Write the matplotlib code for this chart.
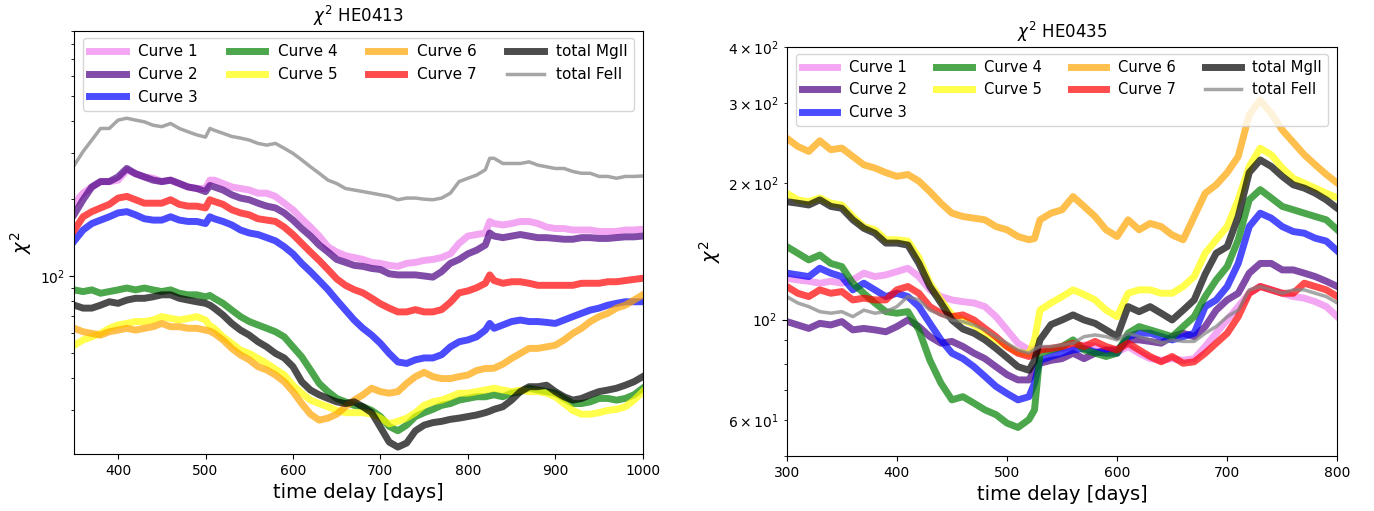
import matplotlib.pyplot as plt

# time delays (days)
days_0413 = [350, 360, 370, 380, 390, 400, 410, 420, 430, 440, 450, 460, 470, 480, 490,
             500, 505, 510, 520, 530, 540, 550, 560, 570, 580, 590, 600, 610, 620, 630,
             640, 650, 660, 670, 680, 690, 700, 710, 720, 730, 740, 750, 760, 770, 780,
             790, 800, 810, 820, 825, 830, 840, 850, 860, 870, 880, 890, 900, 910, 920,
             930, 940, 950, 960, 970, 980, 990, 1000]

days_0435 = [300, 310, 320, 330, 340, 350, 360, 370, 380, 390, 400, 410, 420, 430, 440,
             450, 460, 470, 480, 490, 500, 510, 520, 525, 530, 540, 550, 560, 570, 580,
             590, 600, 610, 620, 630, 640, 650, 660, 670, 680, 690, 700, 710, 720, 730,
             740, 750, 760, 770, 780, 790, 800]

# chi^2 per curve, HE0413
c1_0413 = [192, 210, 222, 233, 233, 236, 258, 250, 243, 240, 233, 236, 229, 222, 219,
           219, 236, 236, 229, 222, 219, 216, 210, 210, 204, 192, 181, 167, 155, 143,
           130, 124, 120, 118, 116, 113, 112, 110, 109, 112, 113, 115, 116, 118, 122,
           134, 143, 145, 147, 163, 160, 158, 160, 163, 163, 160, 155, 153, 153, 151,
           151, 151, 149, 149, 149, 151, 151, 152]
c2_0413 = [174, 198, 222, 233, 233, 243, 262, 250, 243, 236, 233, 236, 229, 222, 219,
           213, 225, 222, 216, 207, 201, 198, 192, 187, 184, 176, 165, 153, 143, 132,
           124, 116, 113, 110, 109, 107, 106, 102, 101, 101, 101, 100, 99, 104, 112,
           116, 122, 126, 132, 147, 143, 141, 143, 145, 143, 141, 141, 140, 139, 139,
           141, 141, 140, 140, 141, 142, 142, 143]
c3_0413 = [137, 151, 160, 165, 170, 176, 178, 173, 167, 165, 165, 170, 165, 163, 163,
           160, 170, 167, 163, 158, 151, 147, 145, 141, 137, 130, 122, 112, 104, 96,
           88.5, 80.6, 73.7, 67.4, 62.6, 58.9, 54.7, 50, 46.3, 45.7, 47.2, 48, 48, 49.4, 53,
           55.5, 56.4, 58, 61.6, 65.4, 62.6, 64.5, 66.5, 67.4, 66.5, 66.5, 66, 65.4, 67.4, 69.5,
           71.6, 73.7, 75, 77, 78.3, 79.4, 79.4, 79.4]
c4_0413 = [88.3, 87, 88.3, 85.7, 87, 88.3, 89.8, 88.3, 89.8, 88.3, 87, 88.3, 85.7, 84.5, 84.5,
           83, 84, 81.9, 78.3, 73.7, 69.5, 66.5, 64.5, 62.6, 60.7, 58, 53, 48.5, 43.1, 38.2,
           35.5, 33.4, 32.4, 31.4, 31, 30, 28.4, 26, 25, 26.3, 28.4, 29.4, 30.3, 31.4, 31.9,
           32.9, 33.4, 33.9, 33.9, 34.2, 34.5, 33.9, 35, 35.5, 36.6, 36, 35.5, 35, 33.4, 31.9,
           31.9, 32.4, 33.4, 33.4, 32.9, 33.4, 34.5, 36.6]
c5_0413 = [53.8, 56.4, 58, 59.8, 62.6, 64.5, 65.4, 66.5, 66.5, 67.4, 69.5, 68.4, 67.4, 68.4, 69.5,
           67.4, 64, 62.6, 58, 54.7, 51.5, 50, 47.8, 45.7, 43.4, 41.2, 37.6, 35, 32.9, 31.9,
           31, 30, 29.4, 29.4, 29.4, 29, 28, 26.6, 27.2, 28, 29.4, 31.4, 32.4, 32.9, 33.9,
           35, 35, 35.5, 36, 36.3, 36.6, 36, 35.5, 36, 35.5, 35.5, 35, 33.9, 31.9, 30,
           29, 29, 29.4, 30, 30.3, 31, 32.9, 35.5]
c6_0413 = [62.6, 60.7, 59.8, 58.9, 60.7, 61.6, 62.6, 61.6, 62.6, 63.5, 65.4, 63.5, 63.5, 62.6, 62.6,
           61.6, 61, 59.8, 56.4, 52.3, 49.3, 47.2, 44.4, 43.1, 41.2, 38.8, 35.5, 31.9, 29, 27.5,
           28, 29, 31, 32.9, 34.5, 36.6, 35.5, 35, 35.5, 38.2, 40.6, 42.2, 40.6, 39.9, 39.9,
           40.6, 41.2, 42.9, 43.7, 43.7, 43.8, 45.4, 47.8, 50, 52.3, 52.3, 53, 53.8, 56.4, 59.8,
           62.6, 66.5, 69.5, 71.6, 75, 77, 80.6, 84.5]
c7_0413 = [151, 170, 178, 184, 190, 201, 204, 198, 192, 192, 192, 198, 190, 187, 187,
           184, 198, 195, 190, 181, 176, 173, 167, 165, 163, 155, 145, 134, 124, 115,
           106, 97.5, 92, 88.5, 86, 82, 78, 75, 72.5, 72.5, 74, 72.5, 72.5, 74, 79,
           86, 87.5, 90, 93.7, 101, 96, 93.7, 95, 95, 93.7, 92, 92, 92, 92, 92,
           93.7, 93.7, 93.7, 95, 95, 96, 97, 98]
mg_0413 = [77, 75, 75, 77, 79.4, 78.3, 80.6, 81.9, 81.9, 83, 84.5, 84.5, 81.9, 80.6, 79.4,
           78.3, 77, 75, 70.5, 65.4, 61.6, 58.9, 55.5, 53, 50, 48, 44.4, 38.8, 36, 34.5,
           33.4, 32.4, 31.9, 32.4, 31, 29.4, 25.8, 22.6, 21.6, 22.4, 25, 26.3, 26.9, 27.2, 27.7,
           28, 28.4, 28.8, 29.4, 29.8, 30.3, 31, 32.9, 35.5, 37.1, 37.1, 37.6, 35.5, 33.9, 32.9,
           33.4, 34.5, 35.5, 36, 36.6, 37.6, 38.8, 40.6]
fe_0413 = [270, 305, 338, 375, 375, 404, 411, 404, 398, 386, 381, 392, 375, 364, 354,
           347, 375, 369, 359, 349, 344, 338, 328, 323, 328, 314, 300, 283, 266, 251,
           236, 229, 219, 216, 213, 210, 207, 204, 198, 201, 201, 199, 198, 201, 210,
           233, 240, 247, 259, 287, 287, 274, 274, 274, 278, 270, 266, 262, 262, 255,
           251, 251, 244, 244, 240, 244, 244, 245]

# chi^2 per curve, HE0435
c1_0435 = [123.4, 122.3, 121.5, 120.3, 121.5, 120.3, 122.3, 126.6, 124.4, 125.5, 127.6, 129.8, 124.4,
           116.3, 112.4, 110.5, 109.5, 108.8, 106.8, 101.5, 94.9, 88.7, 85.7, 86, 86.4, 85.7,
           86.4, 87.2, 87.9, 87.2, 85.7, 84.8, 87.2, 84.3, 82, 81.3, 82, 81.3, 82, 87.2,
           93.3, 99.8, 106.8, 114.3, 118.3, 116.3, 114.3, 112.4, 111.5, 109.5, 106.8, 101.5]
c2_0435 = [99, 97.3, 95.6, 98.1, 97.3, 99, 94.9, 95.6, 94.9, 94, 96.5, 99.8, 96.5,
           91.7, 88.7, 89.5, 87.2, 84.3, 82, 78.7, 75.6, 73.6, 73.6, 77.4, 80.1, 81.3,
           82, 84.3, 82, 84.3, 85.7, 85.7, 90.2, 90.2, 89.5, 88.7, 91.7, 93.3, 91.7, 96.5,
           104.9, 110.5, 114.3, 126.6, 133, 133, 128.7, 128.7, 126.6, 124.4, 121.5, 118.3]
c3_0435 = [126.6, 125.5, 124.4, 129.8, 126.6, 124.4, 116.3, 120.3, 116.3, 112.4, 114.3, 112.4, 106.8,
           98.1, 90.2, 84.3, 82, 78.7, 74.9, 71.2, 68.7, 66.5, 67.6, 72.4, 81.3, 82.9,
           84.3, 85.7, 86.4, 84.8, 84.3, 84.3, 91.7, 93.3, 93.3, 91.7, 90.2, 91.7, 93.3, 106.8,
           110.5, 118.3, 133, 160.4, 171.7, 167.4, 160.4, 156.4, 155.1, 151.2, 149, 141.7]
c4_0435 = [144.9, 140.1, 135.4, 138.8, 133, 130.9, 120.3, 114.3, 108.8, 104.1, 103.3, 104.1, 94.9,
           81.3, 72.4, 66.5, 67.6, 65.4, 63.2, 61.7, 59.1, 57.8, 60.2, 63.2, 84.3, 85.7,
           87.2, 90.2, 85.7, 84.3, 82.9, 84.3, 93.3, 96.5, 94.9, 93.3, 91.7, 96.5, 101.5, 112.4,
           122.3, 130.9, 150, 183.7, 193.5, 185.5, 177.7, 174.7, 171.7, 168.8, 166, 157.8]
c5_0435 = [190, 183.7, 182, 185.5, 180.6, 179, 168.8, 160.4, 157.8, 150, 150, 149, 137,
           120.3, 110.5, 102.4, 99.8, 97.3, 93.3, 90.2, 87.2, 84.8, 84, 90.2, 104.9, 108.8,
           112.4, 116.3, 113.6, 110.5, 104.9, 101.5, 114.3, 116.3, 116.3, 114.3, 114.3, 118.3, 124.4, 140.1,
           150, 160.4, 183.7, 217.7, 238.9, 231, 216, 205, 200, 195, 190, 185.5]
c6_0435 = [251.3, 241, 235, 248, 237, 239, 229, 219.5, 216, 211, 207, 209, 202,
           191.5, 180.6, 171.7, 168.8, 167.4, 166, 160.4, 157.8, 152.5, 150, 151, 166, 171.7,
           174.7, 186.8, 177.7, 168.8, 157.8, 152.5, 166, 157.8, 163, 160.4, 153.7, 150, 168.8, 190,
           198.3, 211, 229, 283, 305, 285, 262, 246, 231, 219.5, 209, 200]
c7_0435 = [118.3, 114.3, 112.4, 116.3, 114.3, 115.3, 110.5, 111.5, 110.5, 110.5, 116.3, 118.3, 114.3,
           106.8, 103.3, 101.5, 102.4, 99.8, 95.6, 91.7, 87.2, 84.3, 82.9, 84, 85.7, 86.4,
           87.2, 88.7, 87.2, 89.5, 87.2, 85.7, 88.7, 85.7, 82.9, 80.7, 82.9, 80.1, 80.7, 84.3,
           88.7, 93.3, 101.5, 114.3, 118.3, 116.3, 114.3, 114.3, 120.3, 118.3, 116.3, 112.4]
mg_0435 = [182, 180.6, 179, 183.7, 177.7, 176, 166, 159, 155.1, 147.5, 147.5, 146, 133,
           118.3, 108.8, 99.8, 95.3, 93.3, 90.2, 86.4, 82.5, 78.7, 77.3, 81.3, 90.2, 97.5,
           99.8, 102.4, 99.8, 98.1, 94.9, 91.7, 106.8, 104.1, 106.8, 103.3, 99.8, 104.9, 110.5, 126,
           140.1, 144.9, 168.8, 211, 225, 217.7, 207, 198.3, 195, 190, 183.7, 176]
fe_0435 = [112.4, 108.8, 106.8, 104.1, 103.3, 104.1, 101.5, 104.9, 103.3, 104.1, 106.8, 112.4, 110.5,
           104.9, 102.4, 99.8, 99, 97.3, 94.9, 91.7, 88.7, 85.7, 84.3, 86, 87.2, 87.2,
           87.9, 88.7, 91.7, 92.5, 91.7, 90.2, 93.3, 91.7, 90.2, 88.7, 90.2, 89.5, 89.5, 93.3,
           96.5, 101.5, 104.9, 116.3, 118.3, 116.3, 114.3, 116.3, 116.3, 114.3, 112.4, 108.8]

labels = ['Curve 1', 'Curve 2', 'Curve 3', 'Curve 4', 'Curve 5', 'Curve 6', 'Curve 7',
          'total MgII', 'total FeII']
colors = ['violet', 'indigo', 'blue', 'green', 'yellow', 'orange', 'red', 'black', 'grey']
widths = [5, 5, 5, 5, 5, 5, 5, 5, 2.5]


def panel(ax, days, series, title, xlim, ylim, legsize):
    for y, lab, c, lw in zip(series, labels, colors, widths):
        ax.plot(days, y, color=c, lw=lw, alpha=0.7, label=lab)
    ax.set_yscale('log')
    ax.set_xlim(xlim)
    ax.set_ylim(ylim)
    ax.set_title(r'$\chi^2$ HE' + title, fontsize=12)
    ax.set_xlabel('time delay [days]', fontsize=14)
    ax.set_ylabel(r'$\chi^2$', fontsize=14)
    ax.legend(loc='upper center', ncol=4, fontsize=legsize, handlelength=2.4)


fig = plt.figure(figsize=(13.74, 5.11), dpi=100)
ax1 = fig.add_axes([0.0541, 0.1115, 0.4137, 0.8284])
ax2 = fig.add_axes([0.5726, 0.1076, 0.4007, 0.8010])

panel(ax1, days_0413,
      [c1_0413, c2_0413, c3_0413, c4_0413, c5_0413, c6_0413, c7_0413, mg_0413, fe_0413],
      '0413', (350, 1000), (20.3, 900), 11)
panel(ax2, days_0435,
      [c1_0435, c2_0435, c3_0435, c4_0435, c5_0435, c6_0435, c7_0435, mg_0435, fe_0435],
      '0435', (300, 800), (50, 400), 10.6)

fig.savefig('out.png', dpi=100)
